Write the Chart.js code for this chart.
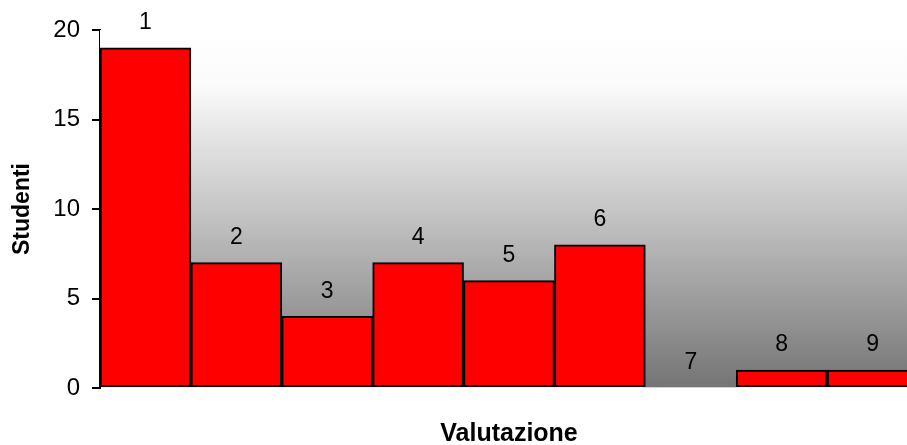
<!DOCTYPE html>
<html>
<head>
<meta charset="utf-8">
<script src="https://cdn.jsdelivr.net/npm/chart.js@4/dist/chart.umd.min.js"></script>
<style>
  html, body { margin: 0; padding: 0; overflow: hidden; background: #ffffff; }
  #wrap { width: 920px; height: 445px; }
</style>
</head>
<body>
<div id="wrap"><canvas id="c"></canvas></div>
<script>
// Grade distribution: number of students per grade
const categories = ['1', '2', '3', '4', '5', '6', '7', '8', '9'];
const studenti = [19, 7, 4, 7, 6, 8, 0, 1, 1];
const yTicks = [0, 5, 10, 15, 20];

const FONT = "'Liberation Sans', Arial, sans-serif";

// Grey-to-white vertical gradient behind the bars
const plotBackground = {
  id: 'plotBackground',
  beforeDatasetsDraw(chart) {
    const { ctx, chartArea: a } = chart;
    const g = ctx.createLinearGradient(0, a.top, 0, a.bottom);
    g.addColorStop(0, '#ffffff');
    g.addColorStop(0.15, '#fbfbfb');
    g.addColorStop(0.5, '#c6c6c6');
    g.addColorStop(1, '#747474');
    ctx.save();
    ctx.fillStyle = g;
    ctx.fillRect(a.left, a.top, a.right - a.left, a.bottom - a.top - 1);
    ctx.restore();
  }
};

// Category name written above each bar
const barNames = {
  id: 'barNames',
  afterDatasetsDraw(chart) {
    const { ctx } = chart;
    const meta = chart.getDatasetMeta(0);
    ctx.save();
    ctx.font = '23px ' + FONT;
    ctx.fillStyle = '#000000';
    ctx.textAlign = 'center';
    ctx.textBaseline = 'middle';
    meta.data.forEach((bar, i) => {
      ctx.fillText(categories[i], bar.x, bar.y - 25);
    });
    ctx.restore();
  }
};

new Chart(document.getElementById('c'), {
  type: 'bar',
  data: {
    labels: categories,
    datasets: [{
      data: studenti,
      backgroundColor: '#ff0000',
      borderColor: '#000000',
      borderWidth: ctx => (ctx.raw === 0 ? 0 : 2),
      borderSkipped: false,
      categoryPercentage: 1,
      barPercentage: 1
    }]
  },
  options: {
    responsive: true,
    maintainAspectRatio: false,
    animation: false,
    layout: { padding: { top: 30, right: 2, left: 0, bottom: 0 } },
    plugins: { legend: { display: false }, tooltip: { enabled: false } },
    scales: {
      x: {
        grid: { display: false },
        border: { display: false },
        ticks: { display: false },
        title: {
          display: true,
          text: 'Valutazione',
          color: '#000000',
          font: { family: FONT, size: 25, weight: 'bold' },
          padding: { top: 0, bottom: -4 }
        },
        afterFit(scale) { scale.height = 57; }
      },
      y: {
        min: 0,
        max: 20,
        afterBuildTicks(scale) { scale.ticks = yTicks.map(v => ({ value: v })); },
        grid: { drawOnChartArea: false, tickLength: 8, color: '#000000', lineWidth: 2 },
        border: { display: true, color: '#000000', width: 2 },
        ticks: {
          color: '#000000',
          padding: 12,
          font: { family: FONT, size: 24 }
        },
        title: {
          display: true,
          text: 'Studenti',
          color: '#000000',
          font: { family: FONT, size: 23, weight: 'bold' },
          padding: { top: 9, bottom: 0 }
        },
        afterFit(scale) { scale.width = 100; }
      }
    }
  },
  plugins: [plotBackground, barNames]
});
</script>
</body>
</html>
